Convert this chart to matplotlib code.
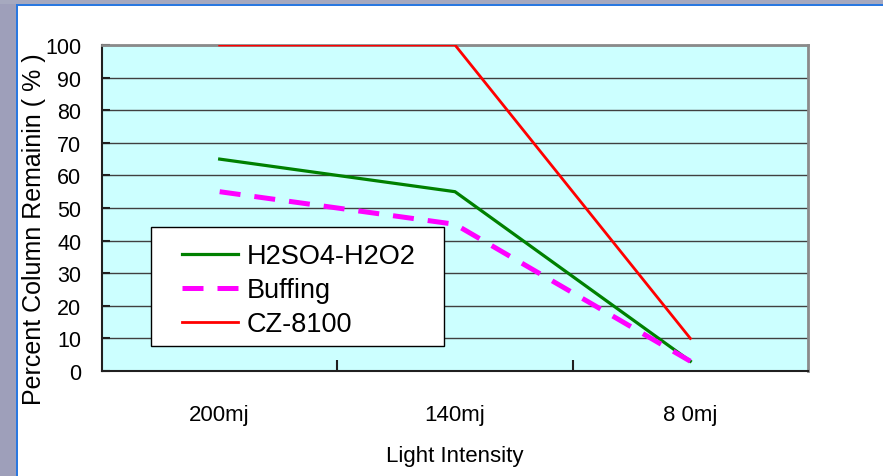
import matplotlib.pyplot as plt
from matplotlib.patches import Rectangle

# data
categories = ['200mj', '140mj', '8 0mj']
h2so4_h2o2 = [65, 55, 3]
buffing = [55, 45, 3]
cz_8100 = [100, 100, 10]
y_ticks = list(range(0, 101, 10))

plt.rcParams['font.family'] = ['Liberation Sans', 'DejaVu Sans']

W, H = 883, 477
fig = plt.figure(figsize=(W / 100, H / 100), dpi=100, facecolor='white')

# slide background strips with the blue frame edge
fig.patches.append(Rectangle((0, 0), 16 / W, 1, transform=fig.transFigure,
                             facecolor='#9e9fba', edgecolor='none', zorder=0))
fig.patches.append(Rectangle((0, 1 - 5 / H), 1, 5 / H, transform=fig.transFigure,
                             facecolor='#a6a9bf', edgecolor='none', zorder=0))
fig.patches.append(Rectangle((16 / W, 0), 1.5 / W, 1 - 5 / H, transform=fig.transFigure,
                             facecolor='#2a78e0', edgecolor='none', zorder=1))
fig.patches.append(Rectangle((16 / W, 1 - 6.5 / H), 1 - 16 / W, 1.5 / H, transform=fig.transFigure,
                             facecolor='#2a78e0', edgecolor='none', zorder=1))

ax = fig.add_axes([102 / W, (H - 372) / H, 706 / W, 326 / H])
ax.set_facecolor('#ccffff')

x = range(len(categories))
ax.plot(x, h2so4_h2o2, color='#008000', lw=2.3, label='H2SO4-H2O2', zorder=3)
ax.plot(x, buffing, color='#ff00ff', lw=3.6, dashes=(4.2, 2.8), label='Buffing', zorder=3)
ax.plot(x, cz_8100, color='#ff0000', lw=2, label='CZ-8100', zorder=3)

ax.set_xlim(-0.5, 2.5)
ax.set_ylim(0, 100)
ax.set_yticks(y_ticks)
ax.set_xticks(list(x))
ax.set_xticklabels(categories)
ax.set_xticks([0.5, 1.5], minor=True)
ax.tick_params(axis='x', which='major', length=0, pad=24, labelsize=16)
ax.tick_params(axis='x', which='minor', direction='in', length=8, width=1.5, color='#202020')
ax.tick_params(axis='y', direction='in', length=6, width=1.5, color='#202020', pad=15, labelsize=15.5)

ax.grid(axis='y', color='#404040', lw=1)
ax.set_axisbelow(True)
for s in ['left', 'bottom']:
    ax.spines[s].set_color('#202020')
    ax.spines[s].set_linewidth(1.5)
for s in ['top', 'right']:
    ax.spines[s].set_color('#8a8a8a')
    ax.spines[s].set_linewidth(2)

ax.set_xlabel('Light Intensity', fontsize=16, labelpad=14)
ax.set_ylabel('Percent Column Remainin ( % )', fontsize=18)
ax.yaxis.set_label_coords(-56 / 706, 143 / 326)

# legend box drawn separately so padding matches the reference
ax.add_patch(Rectangle((49 / 706, 25 / 326), 293 / 706, 119 / 326, transform=ax.transAxes,
                       facecolor='white', edgecolor='black', lw=1, zorder=4))
leg = ax.legend(loc='upper left', bbox_to_anchor=(80 / 706, 128 / 326), frameon=False,
                fontsize=19.5, handlelength=2.05, handletextpad=0.35, labelspacing=0.3,
                borderpad=0, borderaxespad=0)
leg.set_zorder(5)

fig.savefig('out.png', dpi=100, facecolor='white')
